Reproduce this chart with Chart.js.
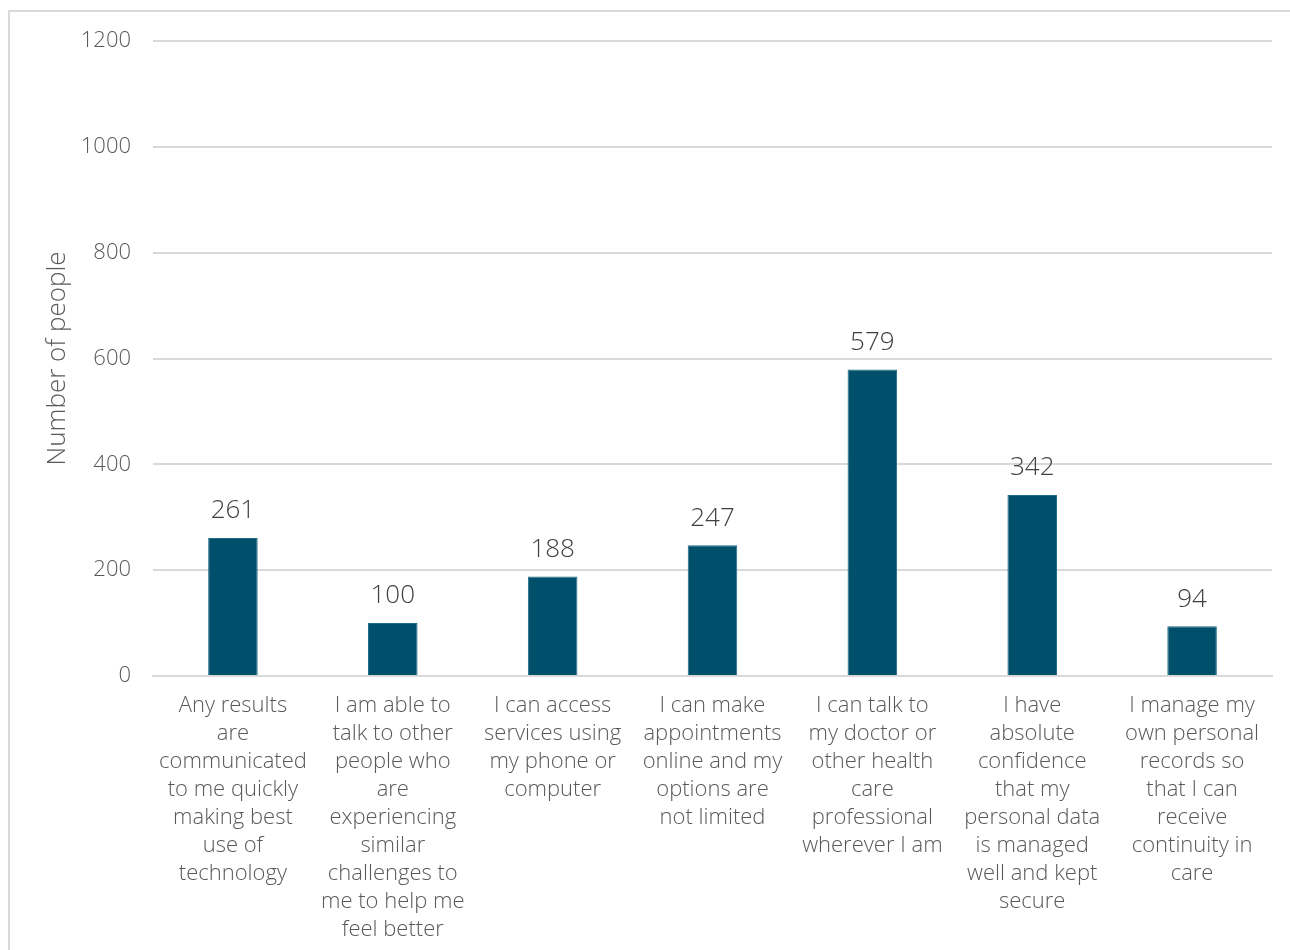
<!DOCTYPE html>
<html>
<head>
<meta charset="utf-8">
<script src="https://cdn.jsdelivr.net/npm/chart.js@4/dist/chart.umd.min.js"></script>
<style>
  html, body { margin: 0; padding: 0; background: #fff; overflow: hidden; }
  #frame { position: absolute; left: 8px; top: 10px; width: 1400px; height: 1100px;
           border: 2px solid #d9d9d9; box-sizing: border-box; }
  #wrap { position: absolute; left: 0; top: 0; width: 1290px; height: 960px; }
</style>
</head>
<body>
<div id="frame"></div>
<div id="wrap"><canvas id="c" width="1290" height="960"></canvas></div>
<script>
// Survey responses: which statement people chose
const categories = [
  ["Any results", "are", "communicated", "to me quickly", "making best", "use of", "technology"],
  ["I am able to", "talk to other", "people who", "are", "experiencing", "similar", "challenges to", "me to help me", "feel better"],
  ["I can access", "services using", "my phone or", "computer"],
  ["I can make", "appointments", "online and my", "options are", "not limited"],
  ["I can talk to", "my doctor or", "other health", "care", "professional", "wherever I am"],
  ["I have", "absolute", "confidence", "that my", "personal data", "is managed", "well and kept", "secure"],
  ["I manage my", "own personal", "records so", "that I can", "receive", "continuity in", "care"]
];
const counts = [261, 100, 188, 247, 579, 342, 94];
const yTicks = [0, 200, 400, 600, 800, 1000, 1200];

const FONT = "'Open Sans', Lato, sans-serif";

// Writes each bar's value just above it
const valueLabels = {
  id: 'valueLabels',
  afterDatasetsDraw(chart) {
    const ctx = chart.ctx;
    const meta = chart.getDatasetMeta(0);
    ctx.save();
    ctx.font = "300 26px " + FONT;
    ctx.fillStyle = '#404040';
    ctx.textAlign = 'center';
    ctx.textBaseline = 'middle';
    meta.data.forEach((bar, i) => {
      ctx.fillText(String(counts[i]), bar.x, bar.y - 27);
    });
    ctx.restore();
  }
};

new Chart(document.getElementById('c'), {
  type: 'bar',
  data: {
    labels: categories,
    datasets: [{
      data: counts,
      backgroundColor: '#00506b',
      borderColor: '#1f6a85',
      borderWidth: 1,
      barPercentage: 0.62,
      categoryPercentage: 0.5
    }]
  },
  options: {
    responsive: false,
    animation: false,
    events: [],
    layout: { padding: { top: 41, right: 18, bottom: 0, left: 0 } },
    plugins: { legend: { display: false }, tooltip: { enabled: false } },
    scales: {
      x: {
        grid: { display: false, drawTicks: false },
        border: { display: true, color: '#d9d9d9', width: 2 },
        ticks: {
          color: '#595959',
          font: { family: FONT, size: 22, weight: 300, lineHeight: '28px' },
          padding: 16,
          maxRotation: 0,
          minRotation: 0,
          autoSkip: false
        }
      },
      y: {
        min: 0,
        max: 1200,
        afterBuildTicks(scale) { scale.ticks = yTicks.map(v => ({ value: v })); },
        afterFit(scale) { scale.width = 153; },
        grid: { color: '#d9d9d9', lineWidth: 2, drawTicks: false },
        border: { display: false },
        ticks: {
          color: '#595959',
          font: { family: FONT, size: 22, weight: 300 },
          padding: 22,
          callback: (v) => String(v)
        },
        title: {
          display: true,
          text: 'Number of people',
          color: '#595959',
          font: { family: FONT, size: 26, weight: 300 },
          padding: { top: 42, bottom: 0 }
        }
      }
    }
  },
  plugins: [valueLabels]
});
</script>
</body>
</html>
